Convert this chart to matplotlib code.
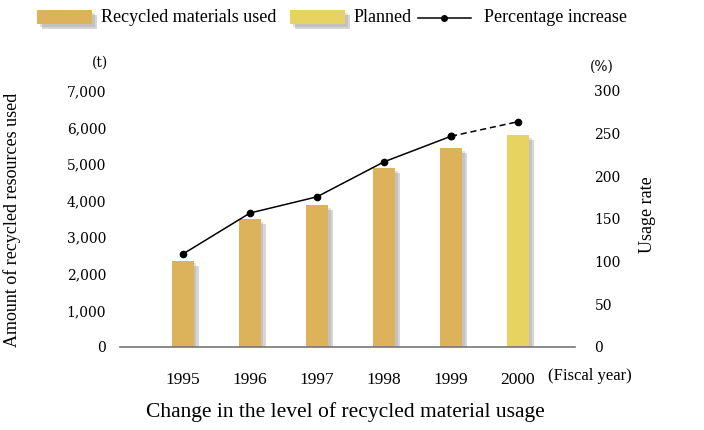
import matplotlib.pyplot as plt
import matplotlib.patheffects as pe
from matplotlib.patches import Rectangle
from matplotlib.lines import Line2D

# === Daten ===
years = ["1995", "1996", "1997", "1998", "1999", "2000"]
amount_used = [2360, 3500, 3870, 4900, 5440]       # t, 1995-1999
amount_planned = [5800]                            # t, 2000
usage_rate = [109, 157, 176, 217, 247, 264]        # %
left_ticks = [0, 1000, 2000, 3000, 4000, 5000, 6000, 7000]
right_ticks = [0, 50, 100, 150, 200, 250, 300]

c_used = "#DCB25A"
c_plan = "#E6D362"
plt.rcParams["font.family"] = "Liberation Serif"

shadow = [pe.SimplePatchShadow(offset=(3.5, -3.5), shadow_rgbFace="#8a8a8a", alpha=0.35),
          pe.SimplePatchShadow(offset=(2, -2), shadow_rgbFace="#8a8a8a", alpha=0.25),
          pe.Normal()]

fig = plt.figure(figsize=(7.04, 4.30), dpi=100)
ax = fig.add_axes([120 / 704, 1 - 347 / 430, 455 / 704, 256 / 430])
ax2 = ax.twinx()

x_used = list(range(len(amount_used)))
x_plan = [len(amount_used)]
bw = 0.32
b1 = ax.bar(x_used, amount_used, width=bw, color=c_used, zorder=2)
b2 = ax.bar(x_plan, amount_planned, width=bw, color=c_plan, zorder=2)
for b in list(b1) + list(b2):
    b.set_path_effects(shadow)

ax.set_xlim(-0.94, 5.85)
ax.set_ylim(0, 7000)
ax.set_yticks(left_ticks)
ax.set_yticklabels([f"{v:,}" for v in left_ticks])
ax.set_xticks(range(len(years)))
ax.set_xticklabels(years)
ax.tick_params(axis="y", length=0, pad=10, labelsize=10, labelfontfamily="DejaVu Serif")
ax.tick_params(axis="x", length=0, pad=18, labelsize=12.5)
for s in ["top", "right", "left"]:
    ax.spines[s].set_visible(False)
ax.spines["bottom"].set_color("#777777")
ax.spines["bottom"].set_linewidth(1.2)

ax2.set_ylim(0, 300)
ax2.set_yticks(right_ticks)
ax2.tick_params(axis="y", length=0, pad=14, labelsize=10, labelfontfamily="DejaVu Serif")
for s in ax2.spines.values():
    s.set_visible(False)
xs = list(range(len(years)))
ax2.plot(xs[:5], usage_rate[:5], color="black", lw=1.1, marker="o", ms=4.5, zorder=3)
ax2.plot(xs[4:], usage_rate[4:], color="black", lw=1.1, ls=(0, (4, 2.5)), marker="o", ms=4.5, zorder=3)

fig.text(100 / 704, 1 - 63 / 430, "(t)", fontsize=10, ha="center", va="center", family="DejaVu Serif")
fig.text(602 / 704, 1 - 67 / 430, "(%)", fontsize=10, ha="center", va="center", family="DejaVu Serif")
fig.text(548 / 704, 1 - 376 / 430, "(Fiscal year)", fontsize=12, ha="left", va="center")
fig.text(12 / 704, 1 - 220 / 430, "Amount of recycled resources used", fontsize=13,
         rotation=90, ha="center", va="center")
fig.text(648 / 704, 1 - 215 / 430, "Usage rate", fontsize=13, rotation=90, ha="center", va="center")
fig.text(345 / 704, 1 - 412 / 430, "Change in the level of recycled material usage", fontsize=15.5,
         ha="center", va="center")

# === Legende oben ===
for x0, col, txt in [(37, c_used, "Recycled materials used"), (290, c_plan, "Planned")]:
    r = Rectangle((x0 / 704, 1 - 24 / 430), 55 / 704, 14 / 430, transform=fig.transFigure,
                  facecolor=col, edgecolor="none")
    r.set_path_effects(shadow)
    fig.patches.append(r)
    fig.text((x0 + 64) / 704, 1 - 18 / 430, txt, fontsize=13, ha="left", va="center")
fig.lines.append(Line2D([418 / 704, 471 / 704], [1 - 18 / 430] * 2, transform=fig.transFigure,
                        color="black", lw=1.1))
fig.lines.append(Line2D([444 / 704], [1 - 18 / 430], transform=fig.transFigure, color="black",
                        marker="o", ms=4))
fig.text(484 / 704, 1 - 18 / 430, "Percentage increase", fontsize=13, ha="left", va="center")

fig.savefig("out.png", dpi=100)
